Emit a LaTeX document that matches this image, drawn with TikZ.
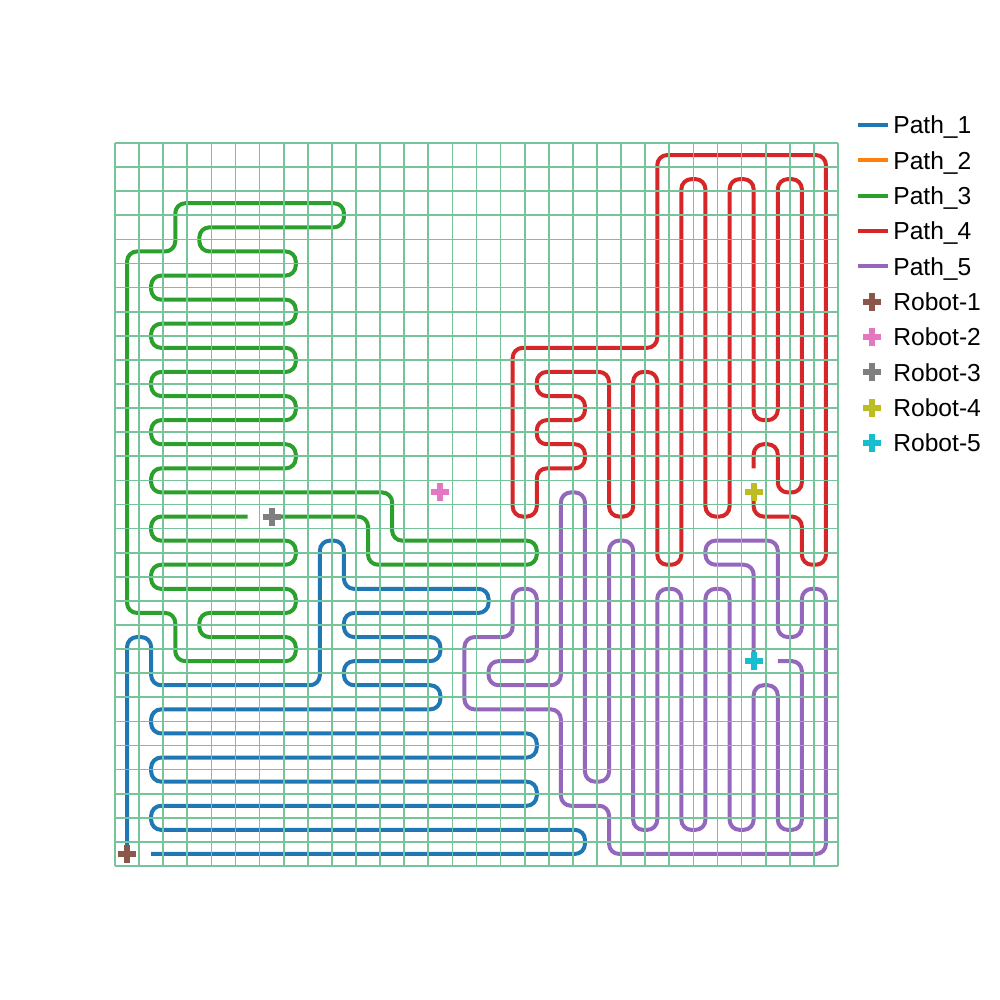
\documentclass[tikz,border=0pt]{standalone}
\usepackage{fontspec}
\setmainfont{Liberation Sans}
\definecolor{pblue}{HTML}{1F77B4}
\definecolor{porange}{HTML}{FF7F0E}
\definecolor{pgreen}{HTML}{2CA02C}
\definecolor{pred}{HTML}{D62728}
\definecolor{ppurple}{HTML}{9467BD}
\definecolor{rbrown}{HTML}{8C564B}
\definecolor{rpink}{HTML}{E377C2}
\definecolor{rgray}{HTML}{7F7F7F}
\definecolor{rolive}{HTML}{BCBD22}
\definecolor{rcyan}{HTML}{17BECF}
\definecolor{gridgreen}{RGB}{118,196,154}
\begin{document}
\begin{tikzpicture}[x=12.05pt,y=12.05pt,
  pathline/.style={line width=2pt, rounded corners=5pt, line join=round},
  gridline/.style={draw=gridgreen, line width=0.85pt},
  legline/.style={line width=2pt},
  legtext/.style={anchor=base west, inner sep=0pt, font=\fontsize{12.3pt}{14pt}\selectfont},
  robot/.pic={\fill (-0.373,-0.125) rectangle (0.373,0.125); \fill (-0.125,-0.373) rectangle (0.125,0.373);}]
\useasboundingbox[fill=white] (-4.772,-5.560) rectangle (36.722,35.934);

\begin{scope}[shift={(0.5,0.5)}]
% Path_1
\draw[pathline, pblue] (0,0) -- (0,9) -- (1,9) -- (1,7) -- (8,7) -- (8,13) -- (9,13) -- (9,11) -- (15,11) -- (15,10) -- (9,10) -- (9,9) -- (13,9) -- (13,8) -- (9,8) -- (9,7) -- (13,7) -- (13,6) -- (1,6) -- (1,5) -- (17,5) -- (17,4) -- (1,4) -- (1,3) -- (17,3) -- (17,2) -- (1,2) -- (1,1) -- (19,1) -- (19,0) -- (1,0);
% Path_3
\draw[pathline, pgreen] (6,14) -- (10,14) -- (10,12) -- (17,12) -- (17,13) -- (11,13) -- (11,15) -- (1,15) -- (1,16) -- (7,16) -- (7,17) -- (1,17) -- (1,18) -- (7,18) -- (7,19) -- (1,19) -- (1,20) -- (7,20) -- (7,21) -- (1,21) -- (1,22) -- (7,22) -- (7,23) -- (1,23) -- (1,24) -- (7,24) -- (7,25) -- (3,25) -- (3,26) -- (9,26) -- (9,27) -- (2,27) -- (2,25) -- (0,25) -- (0,10) -- (2,10) -- (2,8) -- (7,8) -- (7,9) -- (3,9) -- (3,10) -- (7,10) -- (7,11) -- (1,11) -- (1,12) -- (7,12) -- (7,13) -- (1,13) -- (1,14) -- (5,14);
% Path_4
\draw[pathline, pred] (26,15) -- (26,14) -- (28,14) -- (28,12) -- (29,12) -- (29,29) -- (22,29) -- (22,21) -- (16,21) -- (16,14) -- (17,14) -- (17,16) -- (19,16) -- (19,17) -- (17,17) -- (17,18) -- (19,18) -- (19,19) -- (17,19) -- (17,20) -- (20,20) -- (20,14) -- (21,14) -- (21,20) -- (22,20) -- (22,12) -- (23,12) -- (23,28) -- (24,28) -- (24,14) -- (25,14) -- (25,28) -- (26,28) -- (26,18) -- (27,18) -- (27,28) -- (28,28) -- (28,15) -- (27,15) -- (27,17) -- (26,17) -- (26,16);
% Path_5
\draw[pathline, ppurple] (26,8) -- (26,12) -- (24,12) -- (24,13) -- (27,13) -- (27,9) -- (28,9) -- (28,11) -- (29,11) -- (29,0) -- (20,0) -- (20,2) -- (18,2) -- (18,6) -- (14,6) -- (14,9) -- (16,9) -- (16,11) -- (17,11) -- (17,8) -- (15,8) -- (15,7) -- (18,7) -- (18,15) -- (19,15) -- (19,3) -- (20,3) -- (20,13) -- (21,13) -- (21,1) -- (22,1) -- (22,11) -- (23,11) -- (23,1) -- (24,1) -- (24,11) -- (25,11) -- (25,1) -- (26,1) -- (26,7) -- (27,7) -- (27,1) -- (28,1) -- (28,8) -- (27,8);
\end{scope}

% grid
\foreach \k in {0,...,30}{
  \draw[gridline] (\k,0) -- (\k,30);
  \draw[gridline] (0,\k) -- (30,\k);
}

% robots
\pic[rbrown] at (0.5,0.5) {robot};
\pic[rpink] at (13.5,15.5) {robot};
\pic[rgray] at (6.5,14.5) {robot};
\pic[rolive] at (26.5,15.5) {robot};
\pic[rcyan] at (26.5,8.5) {robot};

% legend
\foreach \i/\c/\t in {0/pblue/Path\_1, 1/porange/Path\_2, 2/pgreen/Path\_3, 3/pred/Path\_4, 4/ppurple/Path\_5}{
  \coordinate (la\i) at (30.83,30.75-1.466*\i);
  \coordinate (lb\i) at (32.07,30.75-1.466*\i);
  \draw[legline, \c] (la\i) -- (lb\i);
  \node[legtext] (lt\i) at (32.28,30.385-1.466*\i) {\t};
}
\foreach \i/\c/\t in {5/rbrown/Robot-1, 6/rpink/Robot-2, 7/rgray/Robot-3, 8/rolive/Robot-4, 9/rcyan/Robot-5}{
  \pic[\c] at (31.41,30.75-1.466*\i) {robot};
  \node[legtext] (lt\i) at (32.28,30.385-1.466*\i) {\t};
}
\end{tikzpicture}
\end{document}
